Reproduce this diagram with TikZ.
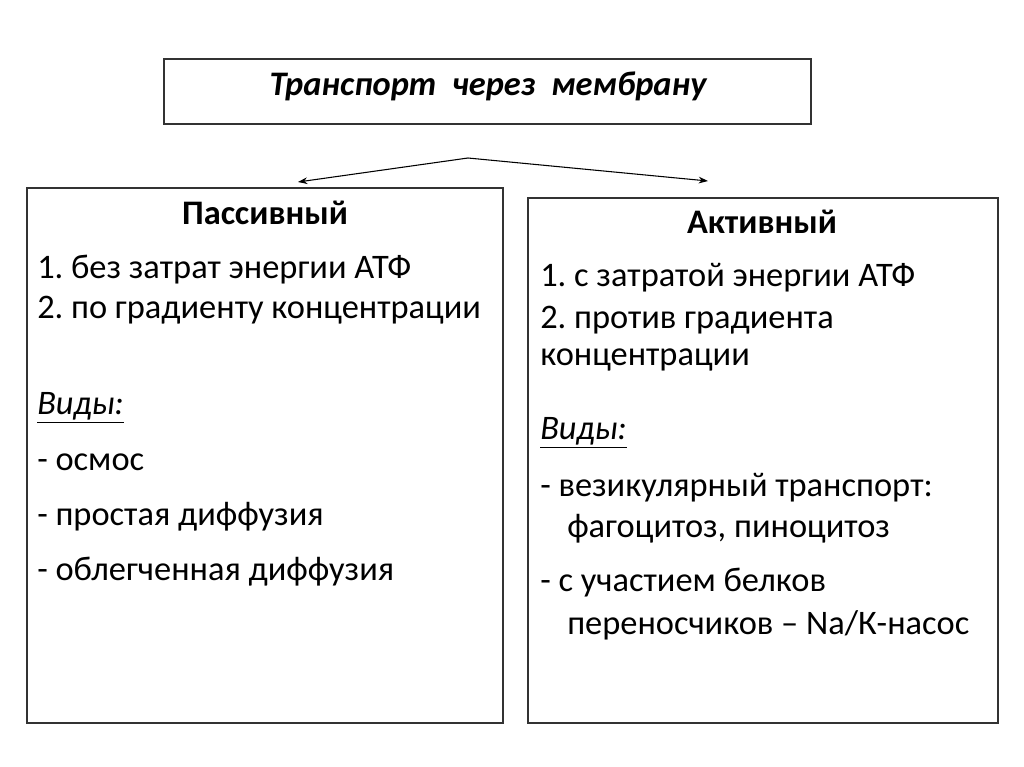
\documentclass[tikz,border=0pt]{standalone}
\usepackage{fontspec}
\usetikzlibrary{arrows.meta}
\setmainfont{Carlito}
\frenchspacing
\begin{document}
\begin{tikzpicture}[x=0.75pt,y=-0.75pt,
 box/.style={draw=black!80,line width=0.8pt},
 txt/.style={anchor=west,inner sep=0pt,font=\fontsize{25.8}{30}\selectfont},
 hd/.style={inner sep=0pt,font=\fontsize{25.8}{30}\selectfont\bfseries},
 arr/.style={-{Stealth[length=7pt,width=5pt]},line width=0.8pt}]
\useasboundingbox (0,0) rectangle (1024,767);
\draw[box] (164,59) rectangle (811,124);
\node[inner sep=0pt,font=\fontsize{25.8}{30}\selectfont\bfseries\itshape] (t) at (488,86) {Транспорт\ \ через\ \ мембрану};
\coordinate (s) at (468,158);
\draw[box] (27,188) rectangle (503,723);
\draw[box] (528,198) rectangle (998,723);
\coordinate (l) at (298,182);
\coordinate (r) at (708,181);
\draw[arr] (s) -- (l);
\draw[arr] (s) -- (r);
\node[hd] (p) at (265,213) {Пассивный};
\node[txt] (p1) at (37,270) {1. без затрат энергии АТФ};
\node[txt] (p2) at (37,310) {2. по градиенту концентрации};
\node[txt] (pv) at (37,408) {\itshape\underline{Виды:}};
\node[txt] (p3) at (37,462) {- осмос};
\node[txt] (p4) at (37,517) {- простая диффузия};
\node[txt] (p5) at (37,572) {- облегченная диффузия};
\node[hd] (a) at (762,222) {Активный};
\node[txt] (a1) at (540,278) {1. с затратой энергии АТФ};
\node[txt] (a2) at (540,320) {2. против градиента};
\node[txt] (a3) at (540,360) {концентрации};
\node[txt] (av) at (540,433) {\itshape\underline{Виды:}};
\node[txt] (a4) at (540,488) {- везикулярный транспорт:};
\node[txt] (a5) at (567,529) {фагоцитоз, пиноцитоз};
\node[txt] (a6) at (540,583) {- с участием белков};
\node[txt] (a7) at (567,625) {переносчиков – Na/К-насос};
\end{tikzpicture}
\end{document}
